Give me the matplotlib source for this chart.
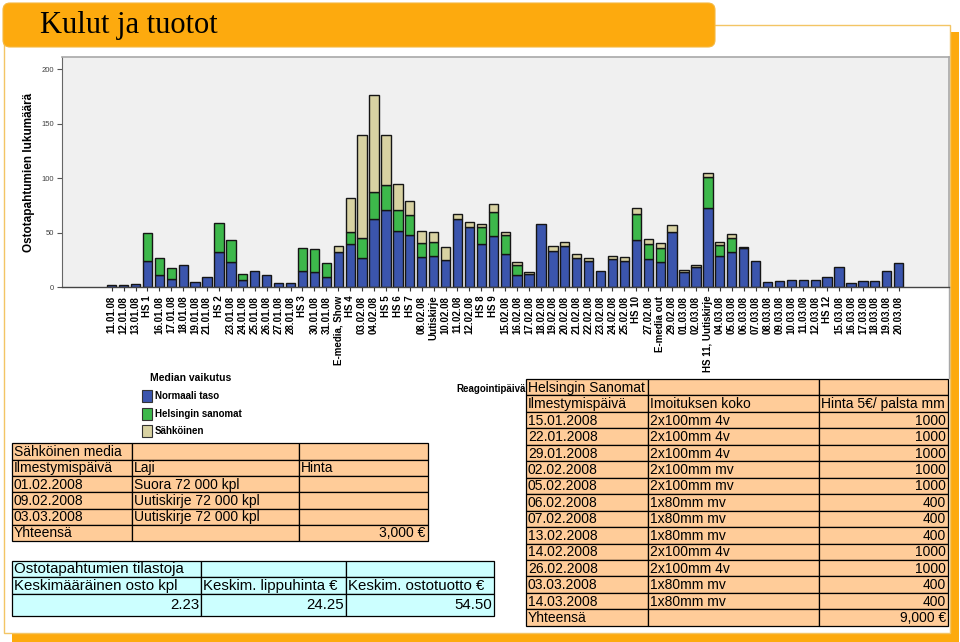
import numpy as np
import matplotlib.pyplot as plt
from matplotlib.patches import Rectangle, FancyBboxPatch

plt.rcParams['font.family'] = ['Liberation Sans', 'DejaVu Sans']

# --- chart data -------------------------------------------------------------
categories = [
    "11.01.08", "12.01.08", "13.01.08", "HS 1", "16.01.08", "17.01.08", "18.01.08",
    "19.01.08", "21.01.08", "HS 2", "23.01.08", "24.01.08", "25.01.08", "26.01.08",
    "27.01.08", "28.01.08", "HS 3", "30.01.08", "31.01.08", "E-media, Show", "HS 4",
    "03.02.08", "04.02.08", "HS 5", "HS 6", "HS 7", "08.02.08", "Uutiskirje",
    "10.02.08", "11.02.08", "12.02.08", "HS 8", "HS 9", "15.02.08", "16.02.08",
    "17.02.08", "18.02.08", "19.02.08", "20.02.08", "21.02.08", "22.02.08",
    "23.02.08", "24.02.08", "25.02.08", "HS 10", "27.02.08", "E-media out",
    "29.02.08", "01.03.08", "02.03.08", "HS 11, Uutiskirje", "04.03.08", "05.03.08",
    "06.03.08", "07.03.08", "08.03.08", "09.03.08", "10.03.08", "11.03.08",
    "12.03.08", "HS 12", "15.03.08", "16.03.08", "17.03.08", "18.03.08",
    "19.03.08", "20.03.08",
]
normaali = [2, 2, 3, 24, 11, 8, 20, 5, 9, 32, 23, 7, 15, 11, 4, 4, 15, 14, 9, 32,
            40, 27, 63, 71, 52, 48, 28, 29, 25, 63, 55, 40, 47, 31, 11, 12, 58, 33,
            38, 27, 24, 15, 26, 24, 43, 26, 23, 51, 14, 19, 73, 29, 32, 36, 24, 5,
            6, 7, 7, 7, 9, 19, 4, 6, 6, 15, 22]
helsingin = [0, 0, 0, 26, 16, 10, 0, 0, 0, 27, 20, 5, 0, 0, 0, 0, 21, 21, 13, 0,
             11, 18, 24, 23, 19, 18, 13, 13, 0, 0, 0, 15, 22, 17, 9, 0, 0, 0, 0, 0,
             0, 0, 0, 0, 24, 14, 13, 0, 0, 0, 28, 10, 13, 0, 0, 0, 0, 0, 0, 0, 0,
             0, 0, 0, 0, 0, 0]
sahkoinen = [0, 0, 0, 0, 0, 0, 0, 0, 0, 0, 0, 0, 0, 0, 0, 0, 0, 0, 0, 6,
             31, 95, 89, 46, 24, 13, 11, 9, 12, 4, 5, 3, 7, 3, 3, 2, 0, 5, 4, 4,
             3, 0, 3, 4, 6, 4, 5, 6, 2, 1, 4, 3, 4, 1, 0, 0, 0, 0, 0, 0, 0, 0, 0,
             0, 0, 0, 0]
yticks = [0, 50, 100, 150, 200]
legend_labels = ["Normaali taso", "Helsingin sanomat", "Sähköinen"]

# --- tables -----------------------------------------------------------------
sahko_rows = [
    ["Sähköinen media", "", ""],
    ["Ilmestymispäivä", "Laji", "Hinta"],
    ["01.02.2008", "Suora 72 000 kpl", ""],
    ["09.02.2008", "Uutiskirje 72 000 kpl", ""],
    ["03.03.2008", "Uutiskirje 72 000 kpl", ""],
    ["Yhteensä", "", "3,000 €"],
]
tilasto_rows = [
    ["Ostotapahtumien tilastoja", "", ""],
    ["Keskimääräinen osto kpl", "Keskim. lippuhinta €", "Keskim. ostotuotto €"],
    ["2.23", "24.25", "54.50"],
]
hs_rows = [
    ["Helsingin Sanomat", "", ""],
    ["Ilmestymispäivä", "Imoituksen koko", "Hinta 5€/ palsta mm"],
    ["15.01.2008", "2x100mm 4v", "1000"],
    ["22.01.2008", "2x100mm 4v", "1000"],
    ["29.01.2008", "2x100mm 4v", "1000"],
    ["02.02.2008", "2x100mm mv", "1000"],
    ["05.02.2008", "2x100mm mv", "1000"],
    ["06.02.2008", "1x80mm mv", "400"],
    ["07.02.2008", "1x80mm mv", "400"],
    ["13.02.2008", "1x80mm mv", "400"],
    ["14.02.2008", "2x100mm 4v", "1000"],
    ["26.02.2008", "2x100mm 4v", "1000"],
    ["03.03.2008", "1x80mm mv", "400"],
    ["14.03.2008", "1x80mm mv", "400"],
    ["Yhteensä", "", "9,000 €"],
]

BLUE = "#3B55AD"
GREEN = "#3DB84B"
TAN = "#D8D2A2"
ORANGE = "#FDAA0E"
PEACH = "#FFCC99"
CYAN = "#CCFFFF"

W, H = 960, 642
fig = plt.figure(figsize=(W / 100, H / 100), dpi=100)

# background layer in pixel coordinates
bg = fig.add_axes([0, 0, 1, 1], zorder=0)
bg.set_xlim(0, W)
bg.set_ylim(H, 0)
bg.axis("off")
bg.add_patch(Rectangle((11.5, 32), 947, 610, color=ORANGE, lw=0))
bg.add_patch(Rectangle((3.5, 24.5), 946.5, 608.5, facecolor="white",
                       edgecolor="#F3C565", lw=1))
bg.add_patch(FancyBboxPatch((3, 3), 712, 44, boxstyle="round,pad=0,rounding_size=7",
                            facecolor=ORANGE, edgecolor="#F5B840", lw=0.8))
bg.text(40, 26, "Kulut ja tuotot", family="Liberation Serif", fontsize=22,
        va="center", ha="left", color="black")
bg.plot([949, 949], [287, 378], color="#A8A8A8", lw=1)

# chart
ax_left, ax_right, ax_top, ax_bot = 61.7, 949, 57.3, 287.3
ax = fig.add_axes([ax_left / W, (H - ax_bot) / H, (ax_right - ax_left) / W,
                   (ax_bot - ax_top) / H], zorder=1)
ax.set_facecolor("#F0F0F0")
x = np.arange(len(categories))
nb = np.array(normaali)
hs = np.array(helsingin)
sa = np.array(sahkoinen)
for vals, base, col in [(nb, 0, BLUE), (hs, nb, GREEN), (sa, nb + hs, TAN)]:
    ax.bar(x, vals, bottom=base, width=0.78, color=col, edgecolor="#151515",
           linewidth=np.where(vals > 0, 1.0, 0.0))
ax.set_xlim(-4.19, 70.22)
ax.set_ylim(0, 211)
ax.set_xticks(x)
ax.set_xticklabels(categories, rotation=90, fontsize=7, fontweight="bold")
ax.set_yticks(yticks)
ax.set_yticklabels([str(t) for t in yticks], fontsize=5.5, color="#404040")
ax.tick_params(axis="x", length=3, width=0.8, color="#333333", pad=3)
ax.tick_params(axis="y", length=3.5, width=0.8, color="#555555", pad=2)
for s in ["top", "right"]:
    ax.spines[s].set_color("#A8A8A8")
    ax.spines[s].set_linewidth(1.2)
ax.spines["left"].set_color("#666666")
ax.spines["bottom"].set_color("#444444")
ax.spines["bottom"].set_linewidth(1.0)
ax.set_ylabel("Ostotapahtumien lukumäärä", fontsize=8.5, fontweight="bold")
ax.yaxis.set_label_coords(-(ax_left - 35) / (ax_right - ax_left), 0.5)

# foreground layer: legend and tables
fg = fig.add_axes([0, 0, 1, 1], zorder=2)
fg.set_xlim(0, W)
fg.set_ylim(H, 0)
fg.axis("off")
fg.patch.set_alpha(0)

fg.text(150, 378, "Median vaikutus", fontsize=7.5, fontweight="bold",
        va="center", ha="left")
for i, (lab, col) in enumerate(zip(legend_labels, [BLUE, GREEN, TAN])):
    yc = 396 + i * 17.6
    fg.add_patch(Rectangle((142, yc - 6), 10, 12, facecolor=col,
                           edgecolor="#333333", lw=0.8))
    fg.text(155, yc, lab, fontsize=7, fontweight="bold", va="center", ha="left")
fg.text(456, 389, "Reagointipäivä", fontsize=7, fontweight="bold",
        va="center", ha="left", zorder=1)


def draw_table(rows, xs, ys, color, fontsize, right_cols):
    for r, row in enumerate(rows):
        y0, y1 = ys[r], ys[r + 1]
        for c, txt in enumerate(row):
            x0, x1 = xs[c], xs[c + 1]
            fg.add_patch(Rectangle((x0, y0), x1 - x0, y1 - y0, facecolor=color,
                                   edgecolor="black", lw=0.9, zorder=3))
            if not txt:
                continue
            if (r, c) in right_cols:
                fg.text(x1 - 2, (y0 + y1) / 2 + 0.5, txt, fontsize=fontsize,
                        ha="right", va="center", zorder=4)
            else:
                fg.text(x0 + 2, (y0 + y1) / 2 + 0.5, txt, fontsize=fontsize,
                        ha="left", va="center", zorder=4)


draw_table(sahko_rows, [11.7, 131.7, 299.3, 427.7],
           [443.3 + 16.3 * i for i in range(len(sahko_rows) + 1)],
           PEACH, 10, {(5, 2)})
draw_table(tilasto_rows, [11.7, 201, 345.7, 494.3], [561, 577, 594, 615.7],
           CYAN, 10.8, {(2, 0), (2, 1), (2, 2)})
draw_table(hs_rows, [526, 647.7, 819, 948],
           [379 + 16.45 * i for i in range(len(hs_rows) + 1)],
           PEACH, 10, {(r, 2) for r in range(2, len(hs_rows))})

fig.savefig("out.png", dpi=100)
